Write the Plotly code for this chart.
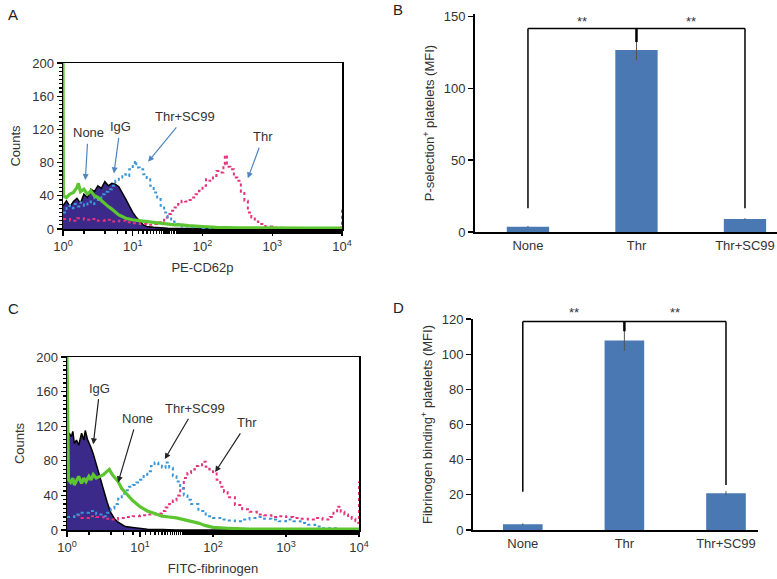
import plotly.graph_objects as go

# ---------------- Panel A histogram data (x in decades, counts) ----------------
A_IGG_D = [0, .05, .1, .15, .2, .25, .3, .35, .4, .45, .5, .55, .6, .65, .7, .75, .8, .85, .9, .95, 1.0, 1.05, 1.1, 1.15, 1.2, 1.3, 1.5, 2, 3, 4]
A_IGG_C = [28, 34, 27, 33, 37, 31, 42, 38, 48, 45, 52, 49, 57, 52, 55, 54, 51, 44, 36, 28, 20, 14, 9, 5, 3, 2, 1, 0.5, 0, 0]

A_NONE_D = [0, 0.005, .05, .1, .15, .2, .22, .25, .3, .35, .4, .45, .5, .55, .6, .65, .7, .75, .8, .85, .9, 1.0, 1.1, 1.2, 1.3, 1.4, 1.5, 1.6, 1.7, 1.8, 2.0, 2.2, 2.5, 3, 3.5, 4]
A_NONE_C = [200, 40, 38, 42, 44, 50, 55, 45, 48, 42, 46, 40, 38, 34, 30, 27, 24, 20, 17, 15, 13, 11, 10, 9, 8, 7, 6, 5, 5, 4, 3, 2, 1.5, 1, 1, 1]

A_SC99_D = [0, .05, .1, .15, .2, .25, .3, .35, .4, .45, .5, .55, .6, .65, .7, .75, .8, .85, .9, .95, 1.0, 1.03, 1.05, 1.1, 1.15, 1.2, 1.25, 1.3, 1.35, 1.4, 1.45, 1.5, 1.55, 1.6, 1.7, 1.8, 2.0, 2.5, 3, 4]
A_SC99_C = [20, 28, 25, 30, 27, 32, 28, 33, 30, 38, 35, 42, 45, 48, 52, 58, 62, 66, 64, 72, 76, 82, 74, 72, 66, 60, 52, 44, 36, 28, 20, 14, 9, 6, 3, 2, 1, 0, 0, 0]

A_THR_D = [0, .1, .2, .3, .4, .5, .6, .7, .8, .9, 1.0, 1.1, 1.2, 1.3, 1.35, 1.4, 1.45, 1.5, 1.55, 1.6, 1.65, 1.7, 1.75, 1.8, 1.85, 1.9, 1.95, 2.0, 2.05, 2.1, 2.15, 2.2, 2.25, 2.3, 2.32, 2.35, 2.4, 2.45, 2.5, 2.55, 2.6, 2.65, 2.7, 2.75, 2.8, 2.9, 3.0, 3.2, 3.5, 3.9, 3.99, 4.0]
A_THR_C = [12, 10, 13, 11, 12, 10, 11, 9, 10, 8, 7, 6, 5, 6, 8, 10, 14, 18, 22, 26, 30, 34, 33, 35, 38, 42, 46, 52, 60, 58, 64, 70, 68, 78, 89, 75, 72, 62, 58, 45, 34, 20, 14, 9, 6, 3, 1.5, 1, 0.5, 0.5, 2, 25]

# ---------------- Panel C histogram data ----------------
C_IGG_D = [0, .03, .06, .08, .1, .13, .16, .2, .23, .25, .28, .3, .33, .36, .4, .45, .5, .55, .6, .65, .7, .75, .8, .9, 1.0, 1.1, 1.3, 1.5, 4]
C_IGG_C = [105, 112, 108, 114, 100, 104, 98, 112, 104, 115, 105, 100, 95, 88, 76, 62, 46, 32, 20, 13, 9, 6, 4, 3, 2, 1, 0.5, 0, 0]

C_NONE_D = [0, .01, .02, .05, .08, .1, .13, .16, .2, .23, .26, .3, .33, .36, .4, .45, .5, .55, .58, .62, .66, .7, .75, .8, .85, .9, 1.0, 1.1, 1.2, 1.3, 1.4, 1.5, 1.6, 1.7, 1.8, 1.9, 2.0, 2.2, 2.5, 3, 3.5, 4]
C_NONE_C = [200, 125, 58, 55, 60, 52, 58, 62, 54, 60, 56, 62, 58, 64, 60, 62, 64, 68, 70, 64, 60, 56, 48, 43, 38, 34, 27, 22, 19, 16, 15, 14, 12, 10, 8, 5, 3, 2, 1, 1, 1, 1]

C_SC99_D = [0, .1, .2, .3, .4, .5, .55, .6, .65, .7, .75, .8, .85, .9, .95, 1.0, 1.05, 1.1, 1.15, 1.2, 1.25, 1.3, 1.35, 1.4, 1.45, 1.5, 1.55, 1.6, 1.65, 1.7, 1.8, 1.9, 2.0, 2.1, 2.2, 2.3, 2.4, 2.5, 2.6, 2.7, 2.8, 2.9, 3.0, 3.1, 3.2, 3.3, 3.4, 3.5, 3.7, 4]
C_SC99_C = [15, 18, 20, 22, 18, 16, 20, 25, 30, 36, 42, 46, 50, 52, 55, 58, 64, 68, 74, 78, 76, 72, 78, 72, 62, 56, 48, 40, 35, 30, 22, 16, 14, 12, 11, 10, 12, 14, 15, 13, 12, 10, 12, 10, 8, 6, 4, 2, 1, 0]

C_THR_D = [0, .1, .2, .3, .4, .5, .6, .7, .8, .9, 1.0, 1.1, 1.2, 1.3, 1.35, 1.4, 1.45, 1.5, 1.55, 1.6, 1.65, 1.7, 1.75, 1.8, 1.85, 1.9, 1.95, 2.0, 2.05, 2.1, 2.15, 2.2, 2.3, 2.4, 2.5, 2.6, 2.7, 2.8, 2.9, 3.0, 3.1, 3.2, 3.3, 3.4, 3.5, 3.6, 3.65, 3.7, 3.75, 3.8, 3.85, 3.9, 3.95, 3.99, 4.0]
C_THR_C = [15, 17, 14, 16, 15, 13, 12, 14, 15, 16, 17, 18, 19, 22, 26, 30, 34, 40, 48, 60, 66, 70, 74, 75, 79, 73, 70, 67, 58, 50, 44, 38, 29, 24, 21, 18, 17, 15, 16, 15, 14, 13, 12, 14, 12, 15, 20, 27, 21, 18, 15, 13, 10, 8, 56]

# ---------------- Bar chart data ----------------
GROUPS = ["None", "Thr", "Thr+SC99"]
B_MFI = [3.7, 126.5, 9.0]
B_ERR = [0.5, 7.0, 0.6]
D_MFI = [3.3, 107.8, 20.9]
D_ERR = [0.5, 6.0, 1.2]

X_TICK_VALS = [1, 10, 100, 1000, 10000]
X_TICK_TEXT = ["10<sup>0</sup>", "10<sup>1</sup>", "10<sup>2</sup>", "10<sup>3</sup>", "10<sup>4</sup>"]

FONT = "Liberation Sans, Arial, sans-serif"
PURPLE = "#3b2a8a"
GREEN = "#5cc530"
BLUE = "#3a98da"
PINK = "#e5327c"
BAR = "#4a78b3"
W, H = 777, 579


def px2x(px):
    return px / W


def px2y(py):
    return 1 - py / H


fig = go.Figure()


def add_hist(xa, ya, igg, none, sc99, thr):
    xs = lambda ds: [10 ** d for d in ds]
    fig.add_trace(go.Scatter(x=xs(igg[0]), y=igg[1], xaxis=xa, yaxis=ya, mode="lines",
                             line=dict(color="black", width=1.5), fill="tozeroy",
                             fillcolor=PURPLE, showlegend=False, hoverinfo="skip"))
    fig.add_trace(go.Scatter(x=xs(thr[0]), y=thr[1], xaxis=xa, yaxis=ya, mode="lines",
                             line=dict(color=PINK, width=2, dash="dot", shape="hv"),
                             showlegend=False, hoverinfo="skip"))
    fig.add_trace(go.Scatter(x=xs(sc99[0]), y=sc99[1], xaxis=xa, yaxis=ya, mode="lines",
                             line=dict(color=BLUE, width=2, dash="dot", shape="hv"),
                             showlegend=False, hoverinfo="skip"))
    fig.add_trace(go.Scatter(x=xs(none[0]), y=none[1], xaxis=xa, yaxis=ya, mode="lines",
                             line=dict(color=GREEN, width=3.2),
                             showlegend=False, hoverinfo="skip"))


add_hist("x", "y", (A_IGG_D, A_IGG_C), (A_NONE_D, A_NONE_C), (A_SC99_D, A_SC99_C), (A_THR_D, A_THR_C))
add_hist("x3", "y3", (C_IGG_D, C_IGG_C), (C_NONE_D, C_NONE_C), (C_SC99_D, C_SC99_C), (C_THR_D, C_THR_C))


def add_bars(xa, ya, vals, errs):
    fig.add_trace(go.Bar(x=list(range(len(GROUPS))), y=vals, xaxis=xa, yaxis=ya, width=0.39,
                         marker=dict(color=BAR, line=dict(width=0)),
                         error_y=dict(type="data", array=errs, visible=True, thickness=1,
                                      width=0, color="#555"),
                         showlegend=False, hoverinfo="skip"))


add_bars("x2", "y2", B_MFI, B_ERR)
add_bars("x4", "y4", D_MFI, D_ERR)

tickfont = dict(family=FONT, size=13, color="#333")
titlefont = dict(family=FONT, size=13, color="#333")

hist_x = dict(type="log", range=[0, 4], tickvals=X_TICK_VALS, ticktext=X_TICK_TEXT,
              showline=True, linecolor="black", linewidth=1.5, mirror=True,
              ticks="outside", ticklen=5, tickwidth=1.2, tickcolor="black",
              minor=dict(ticks="outside", ticklen=3, tickcolor="black"),
              showgrid=False, zeroline=False, tickfont=tickfont, fixedrange=True,
              automargin=False)
hist_y = dict(range=[0, 200], tickvals=[0, 40, 80, 120, 160, 200],
              showline=True, linecolor="black", linewidth=1.5, mirror=True,
              ticks="outside", ticklen=5, tickwidth=1.2, tickcolor="black",
              minor=dict(ticks="outside", ticklen=3, dtick=5, tickcolor="black"),
              showgrid=False, zeroline=False, tickfont=tickfont, fixedrange=True,
              automargin=False,
              title=dict(text="Counts", font=titlefont, standoff=8))

bar_x = dict(tickvals=[0, 1, 2], ticktext=GROUPS, showline=True, linecolor="black",
             linewidth=2, ticks="", showgrid=False, zeroline=False, tickfont=tickfont,
             fixedrange=True, automargin=False)
bar_y = dict(showline=True, linecolor="black", linewidth=2, ticks="outside", ticklen=5,
             tickwidth=1.2, tickcolor="black", showgrid=False, zeroline=False,
             tickfont=tickfont, fixedrange=True, automargin=False)

fig.update_layout(
    width=W, height=H, margin=dict(l=0, r=0, t=0, b=0, autoexpand=False),
    paper_bgcolor="white", plot_bgcolor="white",
    font=dict(family=FONT, color="#333"),
    xaxis=dict(hist_x, domain=[px2x(63), px2x(342)], anchor="y",
               title=dict(text="PE-CD62p", font=titlefont, standoff=10)),
    yaxis=dict(hist_y, domain=[px2y(229), px2y(63)], anchor="x"),
    xaxis3=dict(hist_x, domain=[px2x(67), px2x(359)], anchor="y3",
                title=dict(text="FITC-fibrinogen", font=titlefont, standoff=10)),
    yaxis3=dict(hist_y, domain=[px2y(530), px2y(357)], anchor="x3"),
    xaxis2=dict(bar_x, domain=[px2x(475), 1.0], anchor="y2", range=[-0.488, 2.295]),
    yaxis2=dict(bar_y, domain=[px2y(232), px2y(14)], anchor="x2", range=[0, 151.5],
                tickvals=[0, 50, 100, 150],
                title=dict(text="P-selection<sup>+</sup> platelets (MFI)", font=titlefont, standoff=6)),
    xaxis4=dict(bar_x, domain=[px2x(473), px2x(758)], anchor="y4", range=[-0.49, 2.315]),
    yaxis4=dict(bar_y, domain=[px2y(530), px2y(319)], anchor="x4", range=[0, 120],
                tickvals=[0, 20, 40, 60, 80, 100, 120],
                title=dict(text="Fibrinogen binding<sup>+</sup> platelets (MFI)", font=titlefont, standoff=6)),
)

# significance brackets
def bracket(xa, ya, ytop, yleft, ymid, yright, star_py):
    segs = [(0, ytop, 2, ytop), (0, ytop, 0, yleft), (2, ytop, 2, yright)]
    for (x0, y0, x1, y1) in segs:
        fig.add_shape(type="line", xref=xa, yref=ya, x0=x0, y0=y0, x1=x1, y1=y1,
                      line=dict(color="black", width=1.5))
    fig.add_shape(type="line", xref=xa, yref=ya, x0=1, y0=ytop, x1=1, y1=ymid,
                  line=dict(color="black", width=2.5))
    for xs in (0.5, 1.5):
        fig.add_annotation(xref=xa, yref="paper", x=xs, y=px2y(star_py), text="**",
                           showarrow=False, yanchor="middle",
                           font=dict(family=FONT, size=13, color="#333"))


bracket("x2", "y2", 141.5, 16.5, 132, 16.5, 21)
bracket("x4", "y4", 118.6, 21.8, 113, 25.6, 312)

# histogram labels with arrows (text sits at the arrow tail)
def label(xa, ya, text, tx, ty, hx, hy, color):
    fig.add_annotation(xref=xa, yref=ya, x=hx, y=hy, axref=xa, ayref=ya, ax=tx, ay=ty,
                       text=text, showarrow=True, arrowhead=2, arrowsize=1, arrowwidth=1.2,
                       arrowcolor=color, standoff=0, startstandoff=2,
                       font=dict(family=FONT, size=13, color="#333"))


ARROW_A = "#4f86c0"
label("x", "y", "None", 0.36, 116, 0.32, 59, ARROW_A)
label("x", "y", "IgG", 0.82, 123, 0.73, 67, ARROW_A)
label("x", "y", "Thr+SC99", 1.75, 135, 1.22, 81, ARROW_A)
label("x", "y", "Thr", 2.87, 111, 2.65, 61, ARROW_A)

label("x3", "y3", "IgG", 0.45, 164, 0.36, 99, "#222")
label("x3", "y3", "None", 0.96, 129, 0.70, 55, "#222")
label("x3", "y3", "Thr+SC99", 1.75, 141, 1.34, 82, "#222")
label("x3", "y3", "Thr", 2.47, 124, 2.03, 67, "#222")

# panel letters
for letter, lx, ly in [("A", 13, 14), ("B", 398, 9), ("C", 13, 308), ("D", 398, 307)]:
    fig.add_annotation(xref="paper", yref="paper", x=px2x(lx), y=px2y(ly), text=letter,
                       showarrow=False, xanchor="center", yanchor="middle",
                       font=dict(family=FONT, size=15, color="#222"))

fig.write_html("out.html", config={"displayModeBar": False, "staticPlot": True},
               post_script="document.body.style.margin='0px';document.body.style.overflow='hidden';")
